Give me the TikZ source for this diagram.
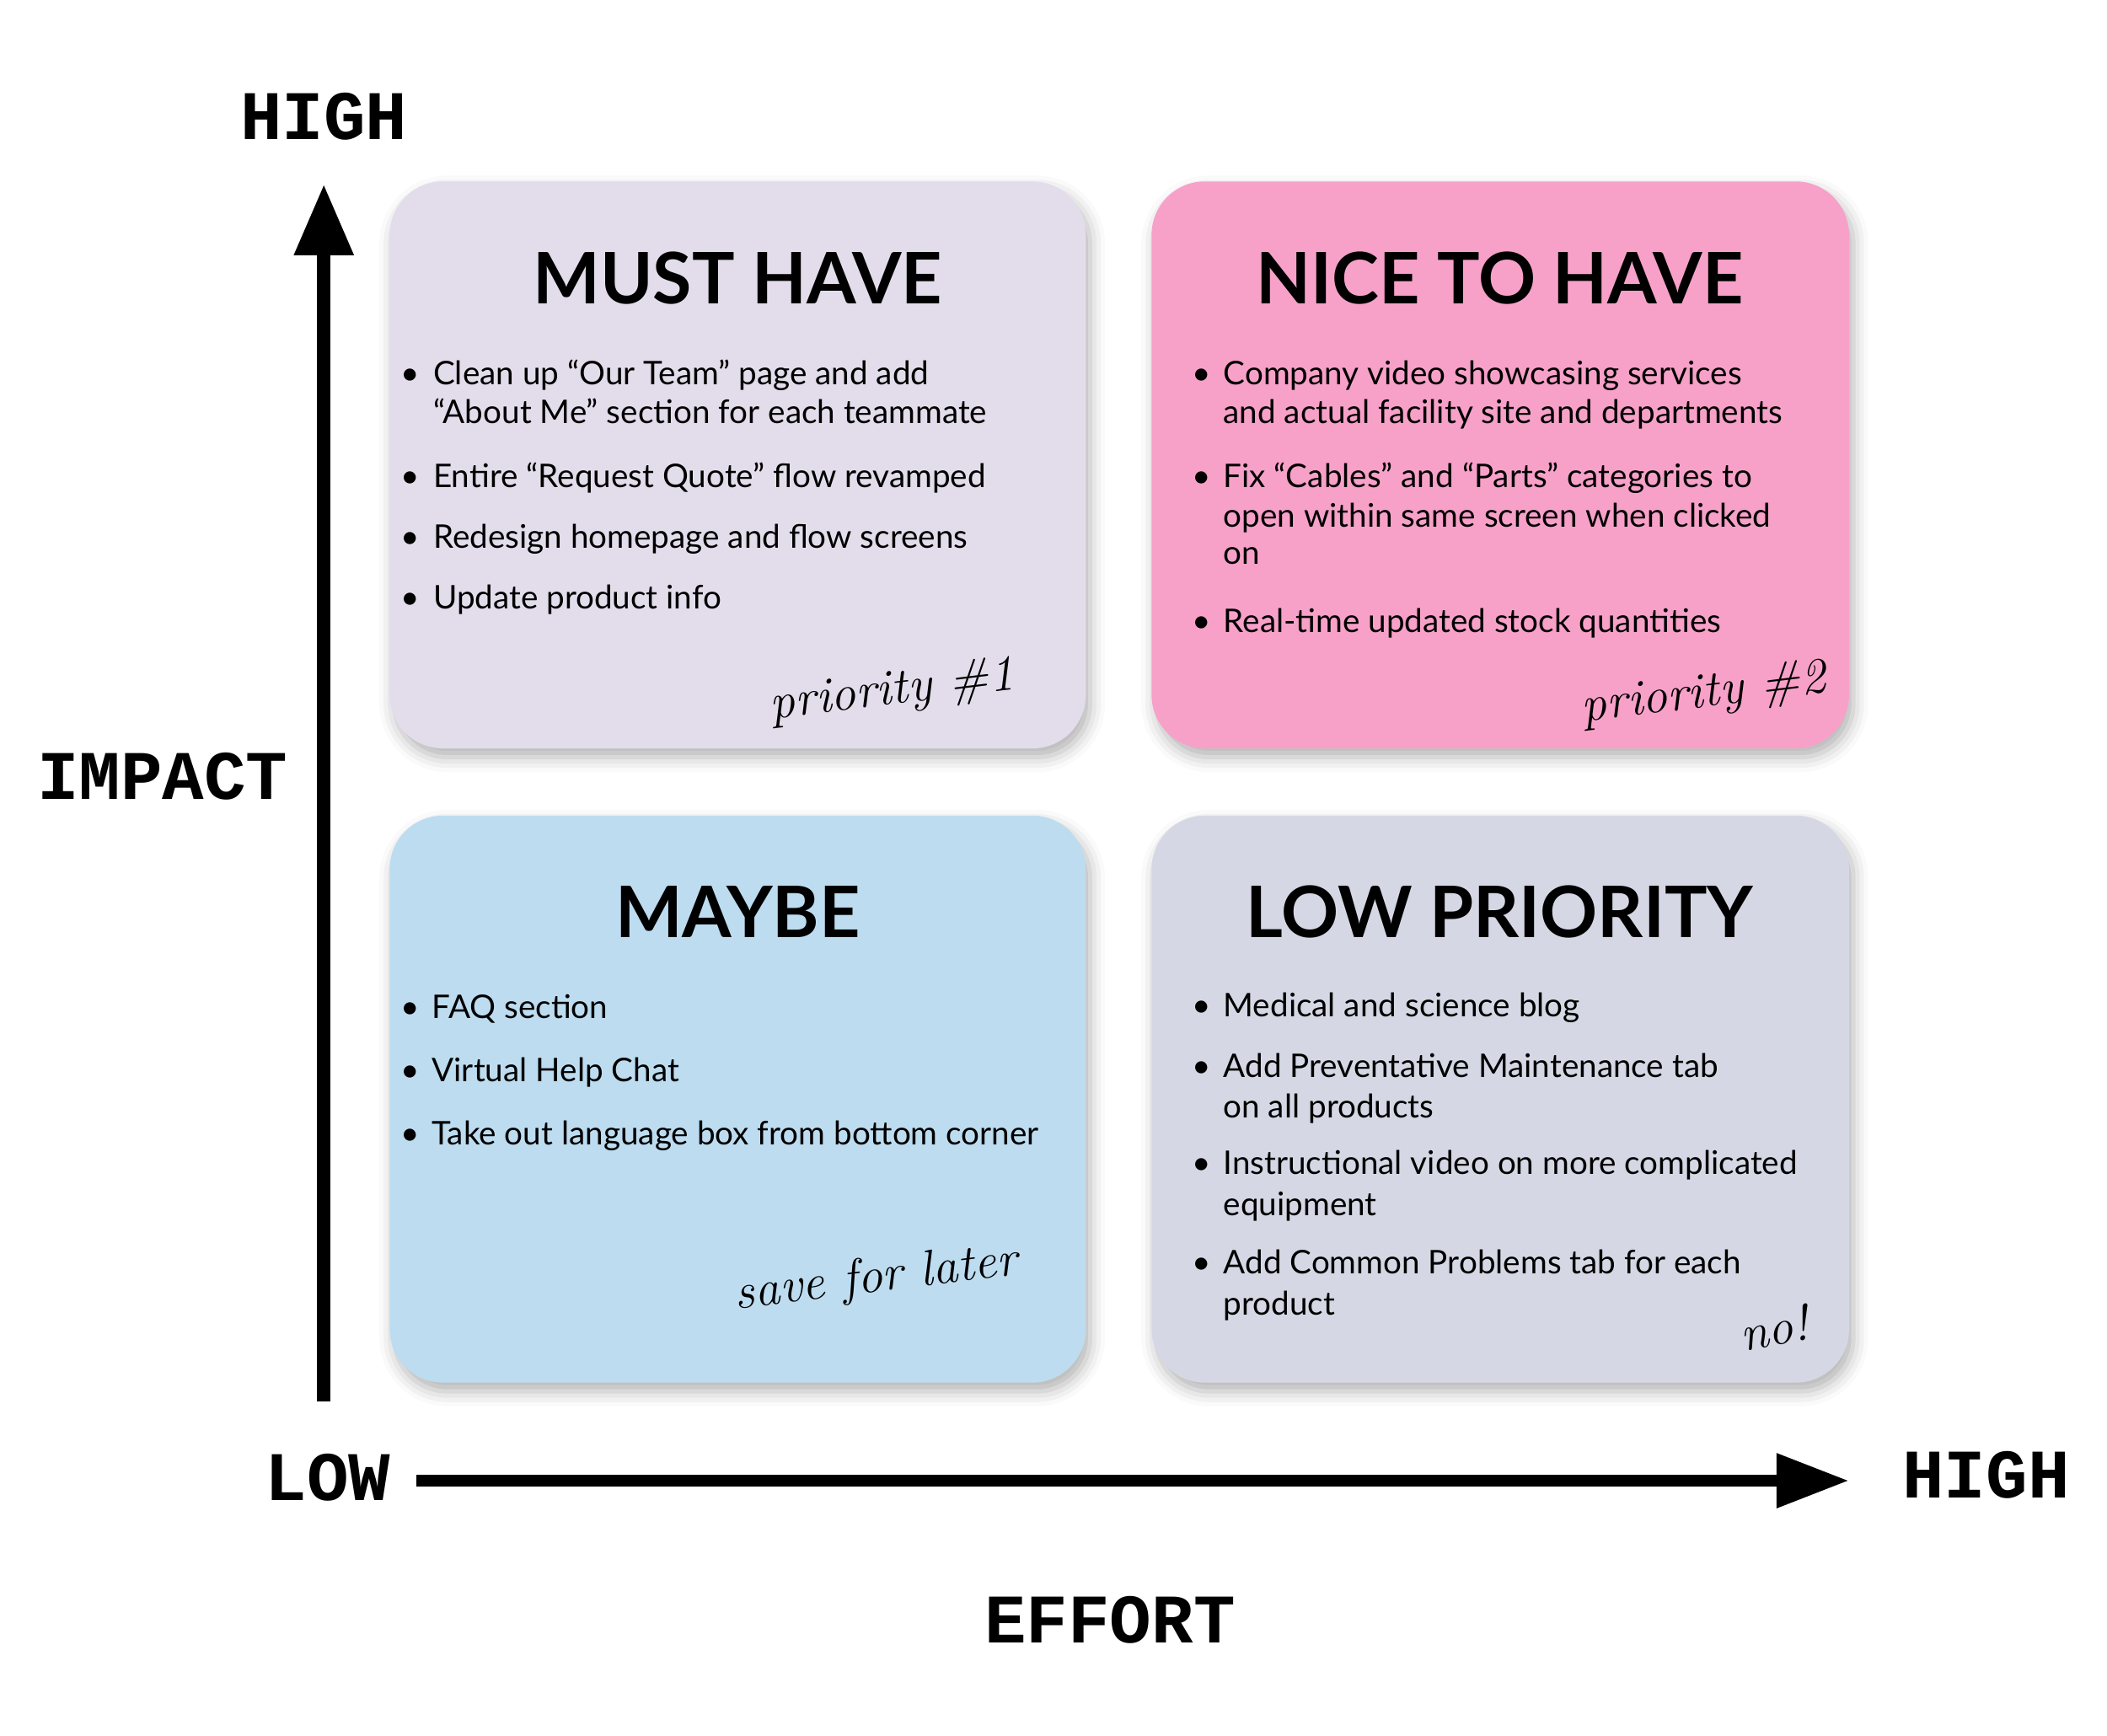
\documentclass[tikz,border=0pt]{standalone}
\usepackage{fontspec}
\newfontfamily\lato{Lato}
\newfontfamily\chalk{Liberation Mono}
\usetikzlibrary{arrows.meta,fit,shadows.blur}
\definecolor{mustc}{RGB}{227,221,235}
\definecolor{nicec}{RGB}{247,161,201}
\definecolor{maybec}{RGB}{189,220,240}
\definecolor{lowc}{RGB}{213,216,228}
\begin{document}
\begin{tikzpicture}[x=0.0159439cm, y=-0.0159439cm,
  box/.style={rounded corners=18pt, inner sep=0pt, draw=none,
    blur shadow={shadow xshift=1.5pt, shadow yshift=-3pt, shadow blur radius=5pt, shadow opacity=30}},
  title/.style={font=\lato\bfseries\fontsize{24}{29}\selectfont, anchor=base, inner sep=0pt},
  item/.style={font=\lato\fontsize{11}{13}\selectfont, anchor=base west, inner sep=0pt},
  dot/.style={font=\lato\fontsize{11}{13}\selectfont, anchor=base, inner sep=0pt},
  axislbl/.style={font=\chalk\bfseries\fontsize{23.5}{28}\selectfont, anchor=base, inner sep=0pt},
  hand/.style={font=\itshape\fontsize{17}{20}\selectfont, inner sep=0pt},
  axisv/.style={line width=4.5pt, -{Triangle[length=24pt,width=19pt]}},
  axish/.style={line width=4.1pt, -{Triangle[length=24.5pt,width=17.5pt]}}]
\useasboundingbox (0,0) rectangle (1568,1292);
% boxes
\node[box, fill=mustc, fit={(290,135)(808,557)}] (must) {};
\node[box, fill=nicec, fit={(857,135)(1376,557)}] (nice) {};
\node[box, fill=maybec, fit={(290,607)(808,1029)}] (maybe) {};
\node[box, fill=lowc, fit={(857,607)(1376,1029)}] (low) {};
% titles
\node[title] (mustT) at (549,226) {MUST HAVE};
\node[title] (niceT) at (1116,226) {NICE TO HAVE};
\node[title] (maybeT) at (549,698) {MAYBE};
\node[title] (lowT) at (1116,698) {LOW PRIORITY};
% must have items
\foreach \yy [count=\i] in {286,363,408,453} \node[dot] (md\i) at (305,\yy) {•};
\node[item] (m1) at (322,286) {Clean up “Our Team” page and add};
\node[item] (m2) at (322,315) {“About Me” section for each teammate};
\node[item] (m3) at (322,363) {Entire “Request Quote” flow revamped};
\node[item] (m4) at (322,408) {Redesign homepage and flow screens};
\node[item] (m5) at (322,453) {Update product info};
% nice to have items
\foreach \yy [count=\i] in {286,363,471} \node[dot] (nd\i) at (894,\yy) {•};
\node[item] (n1) at (910,286) {Company video showcasing services};
\node[item] (n2) at (910,315) {and actual facility site and departments};
\node[item] (n3) at (910,363) {Fix “Cables” and “Parts” categories to};
\node[item] (n4) at (910,392) {open within same screen when clicked};
\node[item] (n5) at (910,420) {on};
\node[item] (n6) at (910,471) {Real-time updated stock quantities};
% maybe items
\foreach \yy [count=\i] in {758,805,852} \node[dot] (yd\i) at (305,\yy) {•};
\node[item] (y1) at (321,758) {FAQ section};
\node[item] (y2) at (321,805) {Virtual Help Chat};
\node[item] (y3) at (321,852) {Take out language box from bottom corner};
% low priority items
\foreach \yy [count=\i] in {757,802,874,948} \node[dot] (ld\i) at (894,\yy) {•};
\node[item] (l1) at (910,757) {Medical and science blog};
\node[item] (l2) at (910,802) {Add Preventative Maintenance tab};
\node[item] (l3) at (910,832) {on all products};
\node[item] (l4) at (910,874) {Instructional video on more complicated};
\node[item] (l5) at (910,905) {equipment};
\node[item] (l6) at (910,948) {Add Common Problems tab for each};
\node[item] (l7) at (910,979) {product};
% handwritten notes
\node[hand, rotate=7] (p1) at (664,515) {priority \#1};
\node[hand, rotate=7] (p2) at (1268,517) {priority \#2};
\node[hand, rotate=7] (sfl) at (652,952) {save for later};
\node[hand, rotate=10] (no) at (1320,988) {no!};
% axes
\coordinate (ybot) at (241,1043);
\coordinate (ytop) at (241,137);
\draw[axisv] (ybot) -- (ytop);
\coordinate (xleft) at (310,1102);
\coordinate (xright) at (1376,1102);
\draw[axish] (xleft) -- (xright);
% axis labels
\node[axislbl] (hiy) at (241,104) {HIGH};
\node[axislbl] (imp) at (121,595) {IMPACT};
\node[axislbl] (lox) at (244,1117) {LOW};
\node[axislbl] (hix) at (1478,1115) {HIGH};
\node[axislbl] (eff) at (826,1223) {EFFORT};
\end{tikzpicture}
\end{document}
